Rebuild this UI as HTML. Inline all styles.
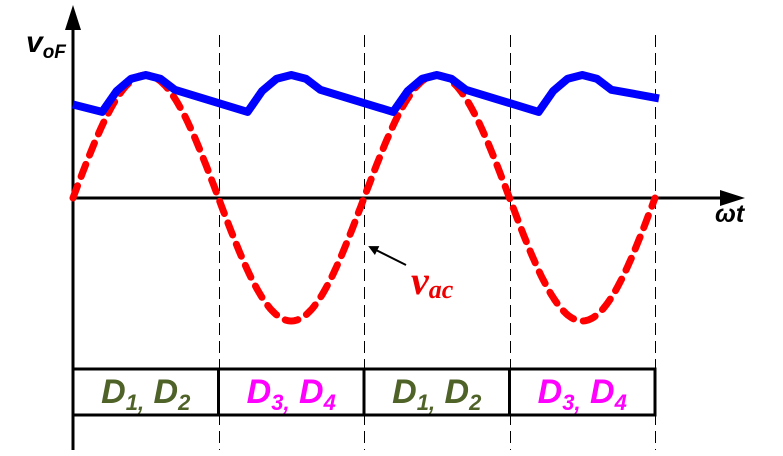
<!DOCTYPE html>
<html><head><meta charset="utf-8"><style>
html,body{margin:0;padding:0;background:#fff;}
svg{display:block;}
</style></head><body>
<svg id="chart" width="783" height="456" viewBox="0 0 783 456">
<defs>
<marker id="ah" markerWidth="10" markerHeight="10" refX="8" refY="5" orient="auto" markerUnits="userSpaceOnUse"><path d="M0,0 L10,5 L0,10 z" fill="#000"/></marker>
</defs>
<g id="grid"></g>
<line x1="73" y1="450" x2="73" y2="28" stroke="#000" stroke-width="3"/>
<polygon points="65,30 81,30 73,5" fill="#000"/>
<line x1="73" y1="198" x2="722" y2="198" stroke="#000" stroke-width="3"/>
<polygon points="720,190 720,206 745,198" fill="#000"/>
<text x="26" y="52" font-family="Liberation Sans, sans-serif" font-weight="bold" font-style="italic" font-size="30">v<tspan font-size="19" dy="6">oF</tspan></text>
<text x="715" y="222" font-family="Liberation Sans, sans-serif" font-weight="bold" font-style="italic" font-size="25">ωt</text>
<path id="red" fill="none" stroke="#f00" stroke-width="7" stroke-dasharray="13 10" stroke-linecap="round"/>
<path id="blue" fill="none" stroke="#00f" stroke-width="8" stroke-linejoin="round"/>
<line x1="406" y1="265" x2="370" y2="247" stroke="#000" stroke-width="2" marker-end="url(#ah)"/>
<text x="411" y="294" fill="#e00" font-family="Liberation Serif, serif" font-weight="bold" font-style="italic" font-size="40">v<tspan font-size="26" dy="4">ac</tspan></text>
<g id="table"></g>
</svg>
<script>
const dividerDeg = [180, 360, 540, 720];
const redAmplitude = [1.0];
const redCycles = [2];
const blueDeg = [0, 36, 54, 72, 90, 108, 126, 216, 234, 252, 270, 288, 306, 396, 414, 432, 450, 468, 486, 576, 594, 612, 630, 648, 666, 725];
const blueV = [0.76, 0.70, 0.87, 0.97, 1.0, 0.97, 0.88, 0.70, 0.87, 0.97, 1.0, 0.97, 0.88, 0.70, 0.87, 0.97, 1.0, 0.97, 0.88, 0.70, 0.87, 0.97, 1.0, 0.97, 0.88, 0.81];
const tableLabels = ["D1, D2", "D3, D4", "D1, D2", "D3, D4"];
const tableColors = ["#4f6228", "#ff00ff", "#4f6228", "#ff00ff"];

const NS = "http://www.w3.org/2000/svg";
const xs = d => 73 + d * (145.5 / 180);
const ys = v => 198 - v * 123;

const grid = document.getElementById('grid');
dividerDeg.forEach(d => {
  const l = document.createElementNS(NS, 'line');
  const px = Math.round(xs(d)) + 0.5;
  l.setAttribute('x1', px); l.setAttribute('x2', px);
  l.setAttribute('y1', 35); l.setAttribute('y2', 450);
  l.setAttribute('stroke', '#000'); l.setAttribute('stroke-width', 1);
  l.setAttribute('stroke-dasharray', '12 6');
  
  
  grid.appendChild(l);
});

let rd = '';
const totalDeg = 360 * redCycles[0];
for (let d = 0; d <= totalDeg; d += 2) {
  rd += (d ? 'L' : 'M') + xs(d).toFixed(1) + ',' + ys(redAmplitude[0] * Math.sin(d * Math.PI / 180)).toFixed(1);
}
document.getElementById('red').setAttribute('d', rd);

let bd = '';
blueDeg.forEach((d, i) => { bd += (i ? 'L' : 'M') + xs(d).toFixed(1) + ',' + ys(blueV[i]).toFixed(1); });
document.getElementById('blue').setAttribute('d', bd);

const table = document.getElementById('table');
const tableTop = 369, tableBot = 415;
const starts = [0].concat(dividerDeg.slice(0, 3));
tableLabels.forEach((lab, i) => {
  const x0 = xs(starts[i]), x1 = xs(dividerDeg[i]);
  const r = document.createElementNS(NS, 'rect');
  r.setAttribute('x', x0); r.setAttribute('y', tableTop);
  r.setAttribute('width', x1 - x0); r.setAttribute('height', tableBot - tableTop);
  r.setAttribute('fill', 'none'); r.setAttribute('stroke', '#000'); r.setAttribute('stroke-width', 3);
  
  
  table.appendChild(r);
  const t = document.createElementNS(NS, 'text');
  t.setAttribute('x', (x0 + x1) / 2); t.setAttribute('y', 403);
  t.setAttribute('text-anchor', 'middle');
  t.setAttribute('fill', tableColors[i]);
  t.setAttribute('font-family', 'Liberation Sans, sans-serif');
  t.setAttribute('font-weight', 'bold'); t.setAttribute('font-style', 'italic');
  t.setAttribute('font-size', '34');
  
  
  const p = lab.split(', ');
  t.innerHTML = 'D<tspan font-size="22" dy="7">' + p[0].slice(1) + ',</tspan><tspan dy="-7"> D</tspan><tspan font-size="22" dy="7">' + p[1].slice(1) + '</tspan>';
  table.appendChild(t);
});
</script>
</body></html>
